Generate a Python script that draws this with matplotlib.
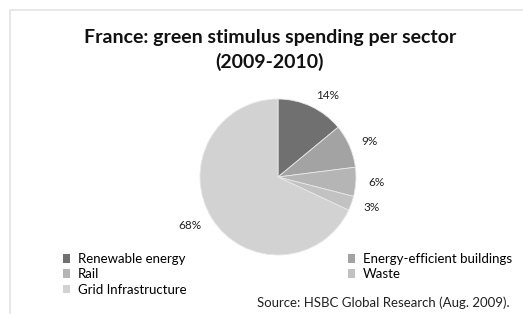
import matplotlib
matplotlib.use("Agg")
import matplotlib.pyplot as plt
from matplotlib.patches import Patch, Rectangle

plt.rcParams['font.family'] = ['Lato', 'DejaVu Sans']

sectors = ["Renewable energy", "Energy-efficient buildings", "Rail", "Waste", "Grid Infrastructure"]
shares = [14, 9, 6, 3, 68]
colors = ["#707070", "#a3a3a3", "#b5b5b5", "#c2c2c2", "#d2d2d2"]
legend_order = [0, 2, 4, 1, 3]

W, H = 523, 314
fig = plt.figure(figsize=(W / 100, H / 100), dpi=100)
fig.patch.set_facecolor("white")

# faint frame of the original chart box
fig.add_artist(Rectangle((10 / W, -0.1), 1.2, (H - 10) / H + 0.1, transform=fig.transFigure,
                         fill=False, edgecolor="#e4e4e4", linewidth=1.2))

fig.text(270 / W, 1 - 38 / H, "France: green stimulus spending per sector",
         ha="center", va="center", fontsize=14, fontweight="bold", color="#111111")
fig.text(270 / W, 1 - 62 / H, "(2009-2010)",
         ha="center", va="center", fontsize=14, fontweight="bold", color="#111111")

cx, cy, r = 278, 177, 78
ax = fig.add_axes([(cx - r) / W, (H - cy - r) / H, 2 * r / W, 2 * r / H])
wedges, texts = ax.pie(shares, colors=colors, startangle=90, counterclock=False,
                       labels=[f"{s}%" for s in shares], labeldistance=1.16,
                       wedgeprops=dict(linewidth=0.6, edgecolor="#e8e8e8"),
                       textprops=dict(fontsize=8.5, color="#222222"))
ax.set_xlim(-1, 1)
ax.set_ylim(-1, 1)
ax.set_aspect("equal")

handles = [Patch(facecolor=colors[i], edgecolor="none") for i in legend_order]
labels = [sectors[i] for i in legend_order]
fig.legend(handles, labels, ncol=2, loc="upper left", bbox_to_anchor=(63 / W, 1 - 253 / H),
           frameon=False, fontsize=9.5, handlelength=0.5, handleheight=0.6, handletextpad=0.6,
           labelspacing=0.25, columnspacing=12.3, borderaxespad=0, borderpad=0)

fig.text(510 / W, 1 - 303 / H, "Source: HSBC Global Research (Aug. 2009).",
         ha="right", va="center", fontsize=9.5, color="#222222")

fig.savefig("out.png", dpi=100)
